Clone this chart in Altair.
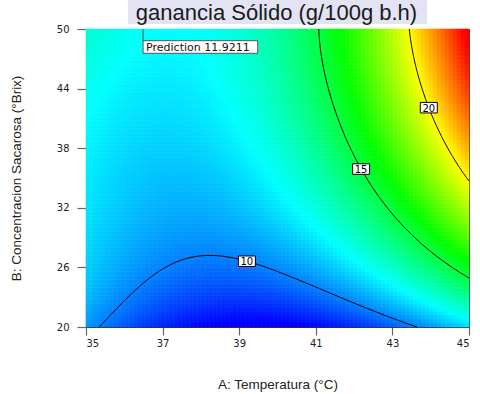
import numpy as np
import pandas as pd
import altair as alt

# ---- response readings: temperature (°C), sucrose (°Brix), solids gain ----
obs_temp = [35.43, 36.06, 36.93, 37.80, 38.41, 39.02, 40.07, 41.10, 42.33, 43.42,
            41.07, 41.24, 41.65, 42.23, 42.76, 43.70, 45.00,
            43.42, 43.68, 43.94, 44.50, 44.98,
            36.49, 35.00, 40.00, 35.00, 35.00, 35.00, 38.00, 40.00, 41.50, 45.00,
            38.80, 37.00, 41.00, 45.00, 44.30, 37.98, 36.90, 40.00]
obs_brix = [20.00, 23.05, 25.57, 26.68, 27.02, 26.80, 25.74, 24.30, 21.70, 20.00,
            50.00, 44.87, 40.00, 35.90, 32.95, 29.00, 24.90,
            50.00, 44.87, 42.08, 38.15, 34.20,
            50.00, 50.00, 50.00, 44.00, 35.00, 20.00, 20.00, 20.00, 20.00, 20.00,
            36.00, 40.00, 30.00, 50.00, 50.00, 31.80, 37.80, 45.00]
obs_gain = [10, 10, 10, 10, 10, 10, 10, 10, 10, 10,
            15, 15, 15, 15, 15, 15, 15,
            20, 20, 20, 20, 20,
            11.92, 13.0, 13.8, 12.4, 11.3, 10.3, 7.8, 7.5, 8.3, 11.0,
            10.9, 11.5, 13.0, 24.5, 22.0, 11.0, 11.6, 12.9]
obs_weight = [3] * 22 + [3] + [1] * 17

contour_levels = [10, 15, 20]
label_anchor_temp = [39.2, None, None]
label_anchor_brix = [None, 35.9, 42.08]

pred_temp = 36.49
pred_brix = 50.0
pred_text = "Prediction 11.9211"

temp_ticks = [35, 37, 39, 41, 43, 45]
brix_ticks = [20, 26, 32, 38, 44, 50]

title_text = "ganancia Sólido (g/100g b.h)"
x_title = "A: Temperatura (°C)"
y_title = "B: Concentracion Sacarosa (°Brix)"


# ---- quartic response surface in coded units ----
def coded(a, b):
    return (np.asarray(a, float) - 40.0) / 5.0, (np.asarray(b, float) - 35.0) / 15.0


def terms(x, y):
    return np.stack([np.ones_like(x), x, y, x * y, x ** 2, y ** 2,
                     x ** 2 * y, x * y ** 2, x ** 3, y ** 3,
                     x ** 4, x ** 3 * y, x ** 2 * y ** 2, x * y ** 3, y ** 4], axis=-1)


xc, yc = coded(obs_temp, obs_brix)
w = np.sqrt(np.asarray(obs_weight, float))
M = terms(xc, yc) * w[:, None]
rhs = np.asarray(obs_gain, float) * w
# light ridge penalty keeps the higher-order terms tame
ridge = 0.02
pen = np.sqrt(ridge) * np.diag([0, 0, 0, 0, 0, 0, 1, 1, 1, 1, 1, 1, 1, 1, 1])
coef = np.linalg.lstsq(np.vstack([M, pen]), np.concatenate([rhs, np.zeros(15)]),
                       rcond=None)[0]


def surface(a, b):
    x, y = coded(a, b)
    return terms(x, y) @ coef


# colour cells
nA, nB = 96, 75
a_edges = np.linspace(35, 45, nA + 1)
b_edges = np.linspace(20, 50, nB + 1)
a_mid = (a_edges[:-1] + a_edges[1:]) / 2
b_mid = (b_edges[:-1] + b_edges[1:]) / 2
AA, BB = np.meshgrid(a_mid, b_mid)
A0, B0 = np.meshgrid(a_edges[:-1], b_edges[:-1])
A1, B1 = np.meshgrid(a_edges[1:], b_edges[1:])
cells = pd.DataFrame({
    "A": A0.ravel(), "A2": A1.ravel(),
    "B": B0.ravel(), "B2": B1.ravel(),
    "gain": surface(AA.ravel(), BB.ravel()),
})


# contour segments by marching squares
def iso_segments(Z, xs, ys, lev):
    segs = []
    ny, nx = Z.shape
    for i in range(ny - 1):
        for j in range(nx - 1):
            c = [(xs[j], ys[i], Z[i, j]), (xs[j + 1], ys[i], Z[i, j + 1]),
                 (xs[j + 1], ys[i + 1], Z[i + 1, j + 1]), (xs[j], ys[i + 1], Z[i + 1, j])]
            pts = []
            for k in range(4):
                x0, y0, z0 = c[k]
                x1, y1, z1 = c[(k + 1) % 4]
                if (z0 < lev) != (z1 < lev):
                    t = (lev - z0) / (z1 - z0)
                    pts.append((x0 + t * (x1 - x0), y0 + t * (y1 - y0)))
            if len(pts) == 2:
                segs.append(pts[0] + pts[1])
            elif len(pts) == 4:
                segs.append(pts[0] + pts[1])
                segs.append(pts[2] + pts[3])
    return segs


gx = np.linspace(35, 45, 141)
gy = np.linspace(20, 50, 141)
GX, GY = np.meshgrid(gx, gy)
GZ = surface(GX.ravel(), GY.ravel()).reshape(GX.shape)
rows = []
for lev in contour_levels:
    for s in iso_segments(GZ, gx, gy, lev):
        rows.append({"A": s[0], "B": s[1], "A2": s[2], "B2": s[3], "level": lev})
lines = pd.DataFrame(rows)


# label positions: where each contour crosses its anchor line
def crossing(lev, a=None, b=None):
    if a is not None:
        bs = np.linspace(20, 50, 3001)
        v = surface(np.full_like(bs, a), bs) - lev
        idx = np.where(np.diff(np.sign(v)) != 0)[0]
        k = idx[-1] if len(idx) else int(np.argmin(np.abs(v)))
        return a, bs[k]
    as_ = np.linspace(35, 45, 3001)
    v = surface(as_, np.full_like(as_, b)) - lev
    idx = np.where(np.diff(np.sign(v)) != 0)[0]
    k = idx[0] if len(idx) else int(np.argmin(np.abs(v)))
    return as_[k], b


lab_rows = []
for lev, a, b in zip(contour_levels, label_anchor_temp, label_anchor_brix):
    pa, pb = crossing(lev, a, b)
    lab_rows.append({"A": pa, "B": pb, "label": str(lev)})
labels = pd.DataFrame(lab_rows)

pred = pd.DataFrame({"A": [pred_temp], "B": [pred_brix], "text": [pred_text]})
head = pd.DataFrame({"title": [title_text]})

# ---- encodings ----
xs = alt.Scale(domain=[35, 45], nice=False, zero=False)
ys = alt.Scale(domain=[20, 50], nice=False, zero=False)
x_axis = alt.Axis(values=temp_ticks, format="d", grid=False, tickSize=8,
                  labelPadding=3, titleY=57, titleBaseline="middle")
y_axis = alt.Axis(values=brix_ticks, format="d", grid=False, tickSize=9,
                  labelPadding=8, titleX=-70, titleY=149, titleBaseline="middle",
                  titleAlign="center")
X = alt.X("A:Q", scale=xs, axis=x_axis, title=x_title)
Y = alt.Y("B:Q", scale=ys, axis=y_axis, title=y_title)

ramp = alt.Scale(domain=[8, 12, 16, 20, 24],
                 range=["#0000ff", "#00ffff", "#00ff00", "#ffff00", "#ff0000"],
                 clamp=True, interpolate="rgb")

heat = alt.Chart(cells).mark_rect(strokeWidth=0.6).encode(
    x=X, x2="A2:Q", y=Y, y2="B2:Q",
    fill=alt.Fill("gain:Q", scale=ramp, legend=None),
    stroke=alt.Stroke("gain:Q", scale=ramp, legend=None),
)

contours = alt.Chart(lines).mark_rule(color="#000000", strokeWidth=1).encode(
    x=X, x2="A2:Q", y=Y, y2="B2:Q"
)

label_box = alt.Chart(labels).mark_point(
    shape="M-1,-0.62H1V0.62H-1Z", size=289, filled=True,
    fill="#ffffff", stroke="#000000", strokeWidth=1, opacity=1
).encode(x=X, y=Y)

label_txt = alt.Chart(labels).mark_text(
    font="DejaVu Sans", fontSize=10, color="#000000", dy=1
).encode(x=X, y=Y, text="label:N")

flag_rule = alt.Chart(pred).mark_rule(color="#555555", strokeWidth=1).encode(
    x=X, y=Y, y2=alt.value(12)
)
flag_box = alt.Chart(pred).mark_rect(fill="#ffffff", stroke="#555555", strokeWidth=1).encode(
    x=X, x2=alt.value(171.7), y=alt.value(11.7), y2=alt.value(24.3)
)
flag_txt = alt.Chart(pred).mark_text(
    align="left", baseline="middle", dx=3, font="DejaVu Sans", fontSize=11, color="#111111"
).encode(x=X, y=alt.value(18.5), text="text:N")

# heading band with its text, set above the plot frame
title_bg = alt.Chart(head).mark_rect(fill="#e3e3f3").encode(
    x=alt.value(42), x2=alt.value(341), y=alt.value(-29), y2=alt.value(-5)
)
title_txt = alt.Chart(head).mark_text(
    font="Liberation Sans", fontSize=22, color="#1a1a1a", align="center",
    baseline="alphabetic"
).encode(x=alt.value(190.5), y=alt.value(-9), text="title:N")

chart = alt.layer(
    heat, contours, label_box, label_txt, flag_rule, flag_box, flag_txt,
    title_bg, title_txt
).properties(
    width=383, height=298,
    autosize=alt.AutoSizeParams(type="none"),
    padding={"left": 86, "top": 29, "right": 11, "bottom": 67},
).configure_view(
    stroke="#444444", strokeWidth=1
).configure_axis(
    labelFont="DejaVu Sans", labelFontSize=10, labelColor="#222222",
    titleFont="Liberation Sans", titleFontSize=13.5, titleFontWeight="normal",
    titleColor="#222222", tickColor="#666666", domainColor="#333333",
    domainWidth=1, tickWidth=1.2,
)

chart.save("out.html", embed_options={"renderer": "svg", "actions": False})
